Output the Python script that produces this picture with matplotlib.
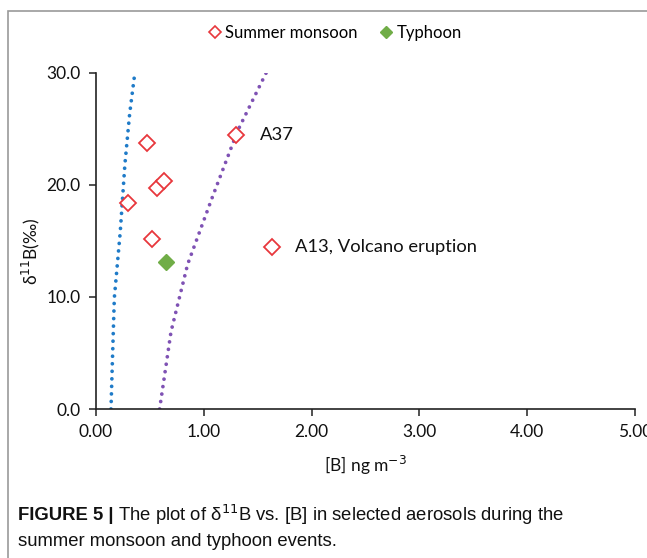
import matplotlib

matplotlib.use("Agg")
import matplotlib.pyplot as plt
from matplotlib.lines import Line2D
from matplotlib.patches import Rectangle

plt.rcParams["font.family"] = ["Lato", "DejaVu Sans"]

# summer monsoon samples ([B] ng m-3, d11B permil)
monsoon_b = [0.47, 0.30, 0.52, 0.57, 0.63, 1.30, 1.63]
monsoon_d11b = [23.7, 18.4, 15.2, 19.7, 20.3, 24.4, 14.4]
typhoon_b = [0.65]
typhoon_d11b = [13.1]

# two dotted mixing curves
blue_b = [0.139, 0.151, 0.170, 0.225, 0.268, 0.312, 0.358]
blue_d11b = [0.0, 3.9, 9.9, 15.8, 21.8, 26.3, 29.8]
purple_b = [0.59, 0.696, 0.85, 1.076, 1.314, 1.462, 1.58]
purple_d11b = [0.0, 6.9, 12.9, 18.8, 24.8, 27.7, 30.0]

point_notes = [("A37", 1.30, 24.4), ("A13, Volcano eruption", 1.63, 14.4)]

red = "#E8373C"
green = "#70AD47"
blue = "#1F7BC8"
purple = "#7F52B4"

W, H = 647, 558
fig = plt.figure(figsize=(W / 100, H / 100), dpi=100)
fig.patches.append(Rectangle((8 / W, -0.1), 2.0, 1.1 - 11 / H, transform=fig.transFigure,
                             fill=False, edgecolor="#9a9a9a", linewidth=1.2))

ax = fig.add_axes([96 / W, 1 - 409 / H, (635 - 96) / W, (409 - 72.5) / H])

dot = dict(linestyle=(0, (0.01, 2.0)), linewidth=2.7, dash_capstyle="round")
ax.plot(blue_b, blue_d11b, color=blue, **dot)
ax.plot(purple_b, purple_d11b, color=purple, **dot)
ax.plot(monsoon_b, monsoon_d11b, "D", ms=8.6, mfc="white", mec=red, mew=1.3, linestyle="none", zorder=4)
ax.plot(typhoon_b, typhoon_d11b, "D", ms=8.6, mfc=green, mec=green, linestyle="none", zorder=4)

for label, bx, by in point_notes:
    ax.annotate(label, (bx, by), textcoords="offset points", xytext=(17, 0),
                va="center", ha="left", fontsize=13.2, color="#111111")

ax.set_xlim(0, 5)
ax.set_ylim(0, 30)
ax.set_xticks([0, 1, 2, 3, 4, 5])
ax.set_xticklabels(["0.00", "1.00", "2.00", "3.00", "4.00", "5.00"])
ax.set_yticks([0, 10, 20, 30])
ax.set_yticklabels(["0.0", "10.0", "20.0", "30.0"])
ax.tick_params(direction="out", length=5, width=1.1, color="#222222", labelsize=12.5,
               labelcolor="#111111", pad=6)
for side in ("top", "right"):
    ax.spines[side].set_visible(False)
for side in ("left", "bottom"):
    ax.spines[side].set_linewidth(1.2)
    ax.spines[side].set_color("#222222")
ax.patch.set_alpha(0)

ax.set_xlabel("[B] ng m$^{-3}$", fontsize=12.5, color="#111111", labelpad=10)
ax.set_ylabel("δ$^{11}$B(‰)", fontsize=12.5, color="#111111")
ax.yaxis.set_label_coords(-0.1, 0.47)

handles = [
    Line2D([], [], marker="D", ms=6.5, mfc="white", mec=red, mew=1.2, linestyle="none"),
    Line2D([], [], marker="D", ms=6.5, mfc=green, mec=green, linestyle="none"),
]
fig.legend(handles, ["Summer monsoon", "Typhoon"], loc="center", bbox_to_anchor=(336 / W, 1 - 33 / H),
           ncol=2, frameon=False, fontsize=12, handlelength=0.6, handletextpad=0.3,
           columnspacing=1.4, borderaxespad=0)

# caption: bold label followed by regular text
cap = ["Liberation Sans Narrow", "Liberation Sans", "DejaVu Sans"]
renderer = fig.canvas.get_renderer()
head = fig.text(18 / W, 1 - 515 / H, "FIGURE 5 |", fontsize=13.3, fontweight="bold",
                family=cap, va="center", color="#111111")
bb = head.get_window_extent(renderer)
fig.text((bb.x1 + 5) / W, 1 - 515 / H, "The plot of δ$^{11}$B vs. [B] in selected aerosols during the",
         fontsize=13.3, family=cap, va="center", color="#111111")
fig.text(18 / W, 1 - 542 / H, "summer monsoon and typhoon events.", fontsize=13.3, family=cap,
         va="center", color="#111111")

fig.savefig("out.png", dpi=100)
